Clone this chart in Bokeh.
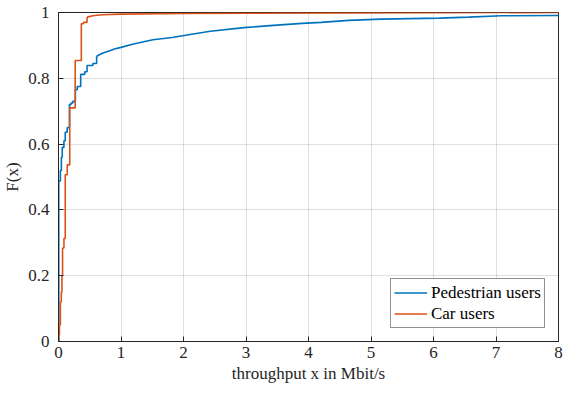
from bokeh.plotting import figure
from bokeh.models import FixedTicker, Range1d, Legend, LegendItem
from bokeh.embed import file_html
from bokeh.resources import INLINE

ped_x = [0.0, 0.004, 0.03, 0.046, 0.06, 0.087, 0.108, 0.139, 0.175, 0.2, 0.23, 0.27, 0.3,
         0.355, 0.42, 0.457, 0.55, 0.61, 0.7, 0.82, 0.894, 1.0, 1.2, 1.51, 1.82, 2.13,
         2.43, 2.97, 3.44, 3.9, 4.2, 4.64, 5.16, 6.09, 6.56, 7.09, 8.0]
ped_y = [0.0, 0.488, 0.52, 0.56, 0.59, 0.61, 0.636, 0.65, 0.72, 0.725, 0.73, 0.765, 0.775,
         0.812, 0.82, 0.839, 0.845, 0.867, 0.876, 0.884, 0.889, 0.894, 0.904, 0.917, 0.924, 0.934,
         0.943, 0.954, 0.961, 0.967, 0.970, 0.976, 0.980, 0.983, 0.986, 0.990, 0.991]

car_x = [0.0, 0.005, 0.015, 0.03, 0.045, 0.055, 0.065, 0.087, 0.108, 0.14, 0.18, 0.267,
         0.365, 0.4, 0.457, 0.55, 0.7, 1.0, 2.0, 3.0, 4.5, 8.0]
car_y = [0.0, 0.02, 0.05, 0.12, 0.15, 0.2, 0.284, 0.313, 0.507, 0.537, 0.71, 0.854,
         0.966, 0.97, 0.986, 0.99, 0.993, 0.995, 0.997, 0.998, 0.999, 1.0]

# beyond these x the empirical CDF is so dense that it reads as a smooth curve
ped_dense_from = 0.61
car_dense_from = 0.457

x_ticks = [0, 1, 2, 3, 4, 5, 6, 7, 8]
y_ticks = [0, 0.2, 0.4, 0.6, 0.8, 1]
y_tick_labels = ["0", "0.2", "0.4", "0.6", "0.8", "1"]

series_names = ["Pedestrian users", "Car users"]
series_colors = ["#0072BD", "#D95319"]

FONT = "'Liberation Serif', serif"
AX = "#262626"
LW = 1.6

p = figure(width=565, height=385, output_backend="svg", toolbar_location=None,
           x_range=Range1d(0, 8), y_range=Range1d(0, 1),
           min_border_left=50, min_border_right=7, min_border_top=12, min_border_bottom=40)


def draw_cdf(xs, ys, dense_from, color):
    k = xs.index(dense_from)
    r = p.step(xs[:k + 1], ys[:k + 1], mode="after", line_color=color, line_width=LW)
    p.line(xs[k:], ys[k:], line_color=color, line_width=LW)
    return r


r1 = draw_cdf(ped_x, ped_y, ped_dense_from, series_colors[0])
r2 = draw_cdf(car_x, car_y, car_dense_from, series_colors[1])

p.outline_line_color = AX
p.outline_line_width = 1

p.xaxis.ticker = FixedTicker(ticks=x_ticks)
p.yaxis.ticker = FixedTicker(ticks=y_ticks)
p.yaxis.major_label_overrides = {t: l for t, l in zip(y_ticks, y_tick_labels)}
p.xaxis.axis_label = "throughput x in Mbit/s"
p.yaxis.axis_label = "F(x)"

for ax in (p.xaxis, p.yaxis):
    ax.axis_line_color = AX
    ax.major_tick_line_color = AX
    ax.major_tick_in = 5
    ax.major_tick_out = 0
    ax.minor_tick_line_color = None
    ax.major_label_text_font = FONT
    ax.major_label_text_font_size = "17px"
    ax.major_label_text_color = AX
    ax.axis_label_text_font = FONT
    ax.axis_label_text_font_size = "17px"
    ax.axis_label_text_font_style = "normal"
    ax.axis_label_text_color = AX
p.xaxis.major_label_standoff = 5
p.xaxis.axis_label_standoff = 3
p.yaxis.major_label_standoff = 9
p.yaxis.axis_label_standoff = 3

p.grid.grid_line_color = "#262626"
p.grid.grid_line_alpha = 0.15

legend = Legend(items=[LegendItem(label=series_names[0], renderers=[r1]),
                       LegendItem(label=series_names[1], renderers=[r2])],
                location="bottom_right")
legend.label_text_font = FONT
legend.label_text_font_size = "17px"
legend.label_text_color = "black"
legend.border_line_color = AX
legend.border_line_width = 1
legend.background_fill_alpha = 1
legend.margin = 13
legend.padding = 3
legend.spacing = 0
legend.glyph_width = 33
legend.glyph_height = 21
legend.label_height = 21
legend.label_standoff = 4
p.add_layout(legend)

open("out.html", "w").write(file_html(p, INLINE))
